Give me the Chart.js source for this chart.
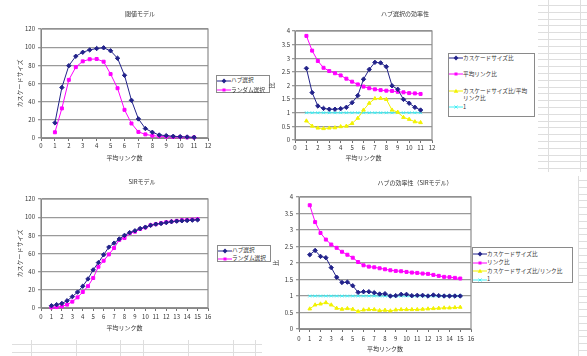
<!DOCTYPE html>
<html><head><meta charset="utf-8">
<script src="https://cdn.jsdelivr.net/npm/chart.js@4"></script>
<style>
html,body{margin:0;padding:0;background:#fff;width:587px;height:356px;overflow:hidden;font-family:"Noto Sans CJK JP",sans-serif;position:relative;}
canvas{position:absolute;}
.ttl{position:absolute;font-size:6px;color:#333;white-space:nowrap;transform:translate(-50%,-50%);line-height:1;}
.lg{position:absolute;border:1.5px solid #8a8a8a;background:#fff;box-sizing:border-box;}
.lt{position:absolute;font-size:6px;color:#333;white-space:nowrap;line-height:7px;transform-origin:0 50%;transform:scaleX(0.94);}
.bgl{position:absolute;background:#dedede;}
</style></head><body>
<script>
// ---------- data ----------
const xThreshold = [1,1.5,2,2.5,3,3.5,4,4.5,5,5.5,6,6.5,7,7.5,8,8.5,9,9.5,10,10.5,11];
const thresholdHub    = [16.7,55.6,79.6,90,94.4,97,98.5,99.3,96,87.8,69,41.5,21,10.4,6.3,3.3,2.6,1.9,1.5,1.1,0.7];
const thresholdRandom = [6.3,32.6,64,78,84.4,86.7,87,84,70.4,54.8,31,16,6.7,4,2.6,1.9,1.5,1.1,1.1,0.7,0.7];

const effCascade = [2.63,1.74,1.25,1.16,1.13,1.13,1.15,1.2,1.37,1.63,2.23,2.59,2.85,2.83,2.69,1.99,1.86,1.49,1.35,1.2,1.1];
const effLink    = [3.82,3.28,2.9,2.65,2.53,2.45,2.37,2.25,2.14,2.04,1.96,1.9,1.86,1.83,1.81,1.8,1.77,1.75,1.72,1.71,1.69];
const effRatio   = [0.7,0.51,0.44,0.42,0.44,0.45,0.49,0.51,0.61,0.8,1.1,1.35,1.52,1.53,1.49,1.1,1.02,0.83,0.76,0.67,0.64];
const effOne     = [1,1,1,1,1,1,1,1,1,1,1,1,1,1,1,1,1,1,1,1,1];

const xSir = [1,1.5,2,2.5,3,3.5,4,4.5,5,5.5,6,6.5,7,7.5,8,8.5,9,9.5,10,10.5,11,11.5,12,12.5,13,13.5,14,14.5,15];
const sirHub    = [2.5,3.7,5,8,12.5,17.5,24,32,42,50,58.6,67,71.4,76,80,83,85,87.5,89,91,92.3,93,94,95,95.6,96,96.3,96.7,97];
const sirRandom = [0.7,1,1.8,3.7,7,11.7,17.6,24,33,45.4,52,59,66,75,77,82.4,84,87,88.6,91.2,92.3,93.4,94.5,95.2,96,96.7,97,97.4,97.8];

const sirEffCascade = [2.25,2.38,2.2,2.16,1.86,1.57,1.41,1.42,1.31,1.11,1.13,1.13,1.1,1.06,1.07,1.0,1.01,1.05,1.05,1.01,1.02,1.02,1.0,1.03,1.01,1.0,1.0,1.0,1.0];
const sirEffLink    = [3.75,3.24,2.91,2.71,2.56,2.46,2.34,2.25,2.16,2.03,1.93,1.89,1.87,1.84,1.81,1.78,1.76,1.75,1.73,1.71,1.7,1.68,1.67,1.64,1.61,1.58,1.57,1.55,1.53];
const sirEffRatio   = [0.61,0.73,0.76,0.8,0.73,0.63,0.6,0.62,0.6,0.53,0.58,0.59,0.59,0.56,0.57,0.55,0.58,0.59,0.59,0.59,0.59,0.6,0.61,0.62,0.63,0.64,0.64,0.65,0.66];
const sirEffOne     = [1,1,1,1,1,1,1,1,1,1,1,1,1,1,1,1,1,1,1,1,1,1,1,1,1,1,1,1,1];

const titles = ['閾値モデル','ハブ選択の効率性','SIRモデル','ハブの効率性（SIRモデル）'];
const xAxisTitle = '平均リンク数';
const yTitleSize = 'カスケードサイズ';
const yTitleRatio = '比';
const labelsSel = ['ハブ選択','ランダム選択'];
const labelsEff = ['カスケードサイズ比','平均リンク比','カスケードサイズ比/平均リンク比','1'];
const labelsSirEff = ['カスケードサイズ比','リンク比','カスケードサイズ比/リンク比','1'];

// ---------- styles ----------
const NAVY='#22228a', MAG='#ff00ff', YEL='#f2f200', CYAN='#44eef4';
const styles = [
  {color:NAVY, marker:'rectRot', r:2.2},
  {color:MAG, marker:'rect', r:2.1},
  {color:YEL, marker:'triangle', r:2.1},
  {color:CYAN, marker:'crossRot', r:2}
];

Chart.defaults.font.family = '"Noto Sans CJK JP", sans-serif';
Chart.defaults.font.size = 6;
Chart.defaults.color = '#333';

const plotBox = {id:'plotBox', beforeDatasetsDraw(chart){
  const {ctx, chartArea:a} = chart;
  ctx.save(); ctx.strokeStyle='#8c8c8c'; ctx.lineWidth=1.2;
  ctx.strokeRect(a.left, a.top, a.right-a.left, a.bottom-a.top); ctx.restore();
}};

function bgLine(x,y,w,h){const d=document.createElement('div');d.className='bgl';
  d.style.cssText=`left:${x}px;top:${y}px;width:${w}px;height:${h}px;`;document.body.appendChild(d);}
// spreadsheet background
for(let y=5;y<170;y+=6.8) bgLine(538,Math.round(y),49,1);
bgLine(548,0,1,172); bgLine(580,0,1,172);
for(let y=180;y<356;y+=6.8) bgLine(579,Math.round(y),8,1);
bgLine(578,176,1,180);
bgLine(12,344,250,1); bgLine(12,352,250,1);
[31,76,120,143,188,233,255].forEach(x=>bgLine(x,340,1,16));

function buildChart(geo, xs, series, axes){
  const c = document.createElement('canvas');
  c.width=geo.w; c.height=geo.h;
  c.style.left=geo.x+'px'; c.style.top=geo.y+'px'; c.style.width=geo.w+'px'; c.style.height=geo.h+'px';
  document.body.appendChild(c);
  const lh = 6*1.2;
  new Chart(c, {
    type:'line',
    data:{datasets: series.map((s,i)=>({
      label:s.label,
      data: xs.map((x,k)=>({x:x, y:s.values[k]})),
      borderColor:styles[i].color, backgroundColor:styles[i].color,
      pointBackgroundColor:styles[i].color, pointBorderColor:styles[i].color,
      borderWidth:1, pointStyle:styles[i].marker, pointRadius:styles[i].r, pointBorderWidth:1,
      tension:0, fill:false, clip:false
    }))},
    options:{
      responsive:false, animation:false, devicePixelRatio:1,
      layout:{padding:{left:0, top:geo.pT-geo.y, right:geo.x+geo.w-geo.pR, bottom:0}},
      plugins:{legend:{display:false}, tooltip:{enabled:false}, title:{display:false}},
      scales:{
        x:{type:'linear', min:0, max:axes.xMax,
          afterFit:s=>{s.height = geo.y+geo.h-geo.pB;},
          ticks:{stepSize:1, autoSkip:false, maxRotation:0, padding:geo.xTickPad, callback:v=>String(v)},
          grid:{drawOnChartArea:false, drawTicks:true, tickLength:3, color:'#707070'},
          border:{color:'#808080', width:1},
          title:{display:true, text:xAxisTitle, font:{size:6}, padding:{top:0, bottom:geo.y+geo.h-geo.xTitleY-lh/2}}},
        y:{min:0, max:axes.yMax,
          afterFit:s=>{s.width = geo.pL-geo.x;},
          ticks:{stepSize:axes.yStep, padding:geo.yTickPad, callback:v=>String(v)},
          grid:{color:'#9a9a9a', lineWidth:1.3, drawTicks:true, tickLength:3},
          border:{color:'#7a7a7a', width:1},
          title:{display:true, text:axes.yTitle, font:{size:6}, padding:{top:geo.yTitleX-geo.x-lh/2, bottom:0}}}
      }
    },
    plugins:[plotBox]
  });
}

function title(text,cx,cy){const d=document.createElement('div');d.className='ttl';d.textContent=text;
  d.style.left=cx+'px';d.style.top=cy+'px';document.body.appendChild(d);}

function symSvg(st){
  const c=st.color; let m='';
  if(st.marker==='rectRot') m=`<path d="M7 0.6 L9.4 3 L7 5.4 L4.6 3Z" fill="${c}"/>`;
  else if(st.marker==='rect') m=`<rect x="5.5" y="1.5" width="3" height="3" fill="${c}"/>`;
  else if(st.marker==='triangle') m=`<path d="M7 0.8 L9.3 4.8 L4.7 4.8Z" fill="${c}"/>`;
  else m=`<path d="M5.5 1.5 L8.5 4.5 M8.5 1.5 L5.5 4.5" stroke="${c}" stroke-width="1"/>`;
  return `<svg width="14" height="6" viewBox="0 0 14 6"><line x1="0" y1="3" x2="14" y2="3" stroke="${c}" stroke-width="1"/>${m}</svg>`;
}

function legend(box, labels, items){
  const b=document.createElement('div');b.className='lg';
  b.style.cssText=`left:${box.x}px;top:${box.y}px;width:${box.w}px;height:${box.h}px;`;
  document.body.appendChild(b);
  labels.forEach((lab,i)=>{
    const it=items[i];
    const s=document.createElement('div');
    s.style.cssText=`position:absolute;left:${box.symX}px;top:${it.y-3}px;width:14px;height:6px;line-height:0;`;
    s.innerHTML=symSvg(styles[i]);document.body.appendChild(s);
    const t=document.createElement('div');t.className='lt';
    t.style.left=box.textX+'px';t.style.top=(it.y-3.5)+'px';
    if(it.breakAt){t.appendChild(document.createTextNode(lab.slice(0,it.breakAt)));t.appendChild(document.createElement('br'));t.appendChild(document.createTextNode(lab.slice(it.breakAt)));}
    else t.textContent=lab;
    document.body.appendChild(t);
  });
}

// chart 1
buildChart({x:0,y:0,w:262,h:168,pL:41,pR:208,pT:29,pB:138,yTitleX:20,xTitleY:158,xTickPad:1.5,yTickPad:3},
  xThreshold,[{label:labelsSel[0],values:thresholdHub},{label:labelsSel[1],values:thresholdRandom}],
  {xMax:12,yMax:120,yStep:20,yTitle:yTitleSize});
title(titles[0],140,14);
legend({x:216,y:75,w:54,h:18,symX:217,textX:231},labelsSel,[{y:79.5},{y:89}]);

// chart 2
buildChart({x:262,y:0,w:278,h:168,pL:295,pR:432,pT:31,pB:140,yTitleX:272,xTitleY:158,xTickPad:1,yTickPad:2},
  xThreshold,[{label:labelsEff[0],values:effCascade},{label:labelsEff[1],values:effLink},{label:labelsEff[2],values:effRatio},{label:labelsEff[3],values:effOne}],
  {xMax:12,yMax:4,yStep:0.5,yTitle:yTitleRatio});
title(titles[1],405,14);
legend({x:448,y:53,w:87,h:64,symX:449,textX:463},labelsEff,[{y:57},{y:73},{y:90,breakAt:12},{y:106}]);

// chart 3
buildChart({x:0,y:170,w:262,h:170,pL:41,pR:208,pT:199,pB:308,yTitleX:20,xTitleY:328,xTickPad:2.5,yTickPad:3},
  xSir,[{label:labelsSel[0],values:sirHub},{label:labelsSel[1],values:sirRandom}],
  {xMax:16,yMax:120,yStep:20,yTitle:yTitleSize});
title(titles[2],142,182);
legend({x:217,y:245,w:54,h:17,symX:218,textX:232},labelsSel,[{y:249.5},{y:257.5}]);

// chart 4
buildChart({x:262,y:170,w:316,h:186,pL:299,pR:471,pT:197,pB:329,yTitleX:276,xTitleY:349,xTickPad:3,yTickPad:3},
  xSir,[{label:labelsSirEff[0],values:sirEffCascade},{label:labelsSirEff[1],values:sirEffLink},{label:labelsSirEff[2],values:sirEffRatio},{label:labelsSirEff[3],values:sirEffOne}],
  {xMax:16,yMax:4,yStep:0.5,yTitle:yTitleRatio});
title(titles[3],415,183);
legend({x:472,y:247,w:101,h:36,symX:473,textX:487},labelsSirEff,[{y:253},{y:261.5},{y:270},{y:278.5}]);
</script>
</body></html>
